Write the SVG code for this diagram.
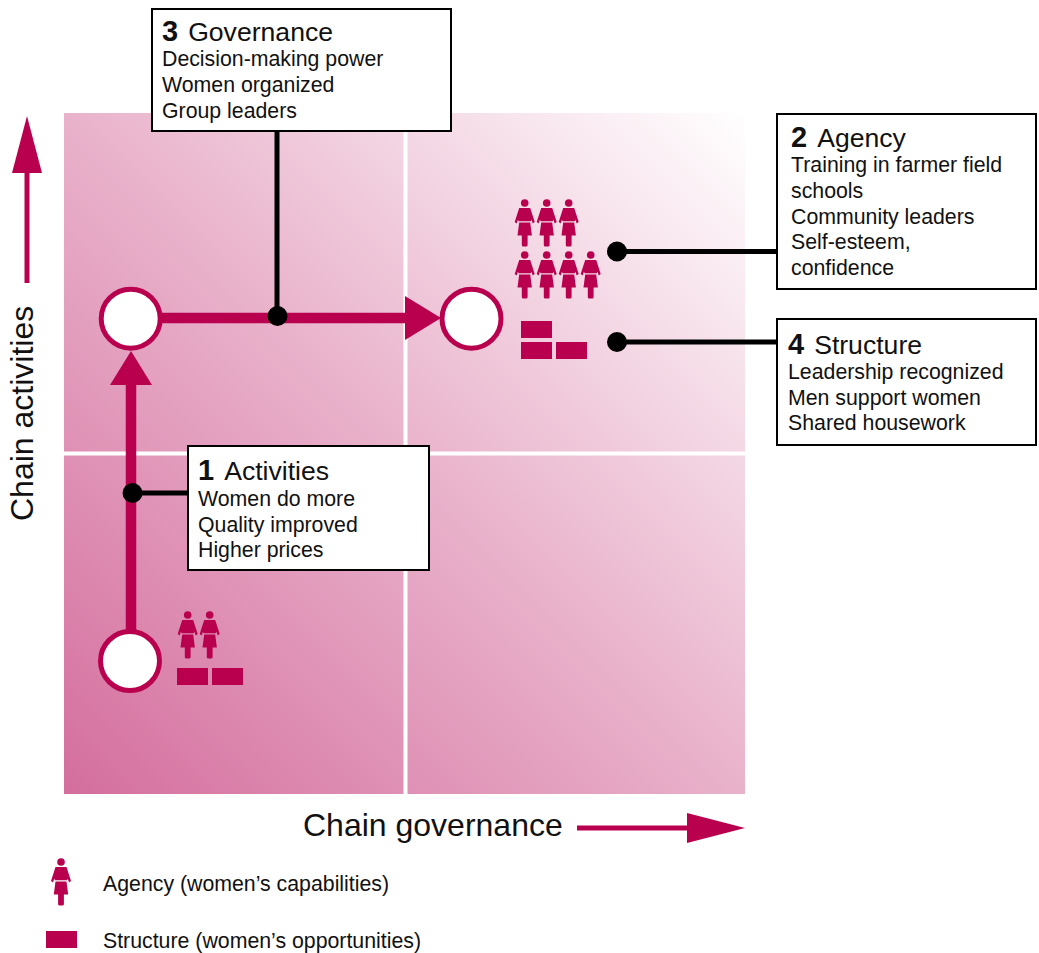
<svg xmlns="http://www.w3.org/2000/svg" width="1039" height="953" viewBox="0 0 1039 953">
<style>
text{font-family:"Liberation Sans",Arial,sans-serif;fill:#111}
.box{fill:#fff;stroke:#000;stroke-width:2}
.t{font-size:21.3px}
.h{font-size:26.600px}
.n{font-size:29px;font-weight:bold}
.ax{font-size:32px}
.lg{font-size:21.300px}
.wire{stroke:#000;stroke-width:5;fill:none}
.mg{fill:#b8004f}
.mgl{stroke:#b8004f;fill:none}
.node{fill:#fff;stroke:#b8004f;stroke-width:5}
</style>
<defs>
<linearGradient id="bg" gradientUnits="userSpaceOnUse" x1="64" y1="794" x2="745" y2="113">
<stop offset="0" stop-color="#d46e9d"/>
<stop offset="0.5" stop-color="#e9b2cb"/>
<stop offset="1" stop-color="#ffffff"/>
</linearGradient>
<g id="w">
<circle cx="0" cy="0" r="3.800"/>
<path d="M-5.500,5 H5.500 L10,19 L8,20.500 L6.800,16.800 L6,18.300 H-6 L-6.800,16.800 L-8,20.500 L-10,19 Z"/>
<path d="M-5.500,19.600 H5.500 L7.200,32.500 H2.900 V42 Q2.900,43.500 1.500,43.500 H-1.500 Q-2.900,43.500 -2.900,42 V32.500 H-7.200 Z"/>
</g>
</defs>
<g id="matrix">
<rect x="64" y="113" width="681" height="681" fill="url(#bg)"/>
<path d="M405.500,113V794M64,453.500H745" stroke="#fff" stroke-width="4" fill="none"/>
</g>
<g id="connectors">
<path class="wire" d="M277,130V316"/>
<path class="wire" d="M132,493H190"/>
<path class="wire" d="M617,251.500H778"/>
<path class="wire" d="M617,342H778"/>
<path class="mgl" stroke-width="10.500" d="M160,318H410"/>
<path class="mg" d="M405,296L441,318L405,340Z"/>
<path class="mgl" stroke-width="10.500" d="M131,635V380"/>
<path class="mg" d="M131,351L152,385H110Z"/>
<circle cx="277.500" cy="316" r="10"/>
<circle cx="132.500" cy="493" r="10"/>
<circle cx="617" cy="251.500" r="10"/>
<circle cx="617" cy="342" r="10"/>
</g>
<g id="axis-y">
<path class="mgl" stroke-width="5" d="M27,283V150"/>
<path class="mg" d="M27,116L42,173H12Z"/>
<text class="ax" transform="translate(33,521) rotate(-90)">Chain activities</text>
</g>
<g id="axis-x">
<text class="ax" x="303" y="836">Chain governance</text>
<path class="mgl" stroke-width="5" d="M577,828H700"/>
<path class="mg" d="M745,828L687,813V843Z"/>
</g>
<g id="node-start">
<circle class="node" cx="130" cy="661" r="29.500"/>
<g class="mg"><use href="#w" x="187.700" y="615"/><use href="#w" x="209.700" y="615"/>
<rect x="177" y="668" width="31" height="17"/><rect x="212" y="668" width="31" height="17"/></g>
</g>
<g id="node-mid"><circle class="node" cx="130.700" cy="318.700" r="29.500"/></g>
<g id="node-end">
<circle class="node" cx="471.500" cy="318.700" r="29.500"/>
<g class="mg">
<use href="#w" x="524.700" y="203"/><use href="#w" x="546.700" y="203"/><use href="#w" x="568.700" y="203"/>
<use href="#w" x="524.700" y="255"/><use href="#w" x="546.700" y="255"/><use href="#w" x="568.700" y="255"/><use href="#w" x="590.700" y="255"/>
<rect x="521" y="321" width="31" height="17"/><rect x="521" y="342" width="31" height="17"/><rect x="556" y="342" width="31" height="17"/>
</g>
</g>
<g id="box-3">
<rect class="box" x="152" y="9" width="299" height="122"/>
<text x="162" y="41"><tspan class="n">3</tspan><tspan class="h" dx="10">Governance</tspan></text>
<text class="t" x="162" y="66">Decision-making power</text>
<text class="t" x="162" y="92">Women organized</text>
<text class="t" x="162" y="118">Group leaders</text>
</g>
<g id="box-2">
<rect class="box" x="777" y="114" width="259" height="175"/>
<text x="791" y="147"><tspan class="n">2</tspan><tspan class="h" dx="10">Agency</tspan></text>
<text class="t" x="791" y="172">Training in farmer field</text>
<text class="t" x="791" y="198">schools</text>
<text class="t" x="791" y="224">Community leaders</text>
<text class="t" x="791" y="249">Self-esteem,</text>
<text class="t" x="791" y="275">confidence</text>
</g>
<g id="box-4">
<rect class="box" x="777" y="319" width="259" height="126"/>
<text x="788" y="354"><tspan class="n">4</tspan><tspan class="h" dx="10">Structure</tspan></text>
<text class="t" x="788" y="379">Leadership recognized</text>
<text class="t" x="788" y="405">Men support women</text>
<text class="t" x="788" y="430">Shared housework</text>
</g>
<g id="box-1">
<rect class="box" x="188" y="446" width="241" height="124"/>
<text x="198" y="480"><tspan class="n">1</tspan><tspan class="h" dx="10">Activities</tspan></text>
<text class="t" x="198" y="506">Women do more</text>
<text class="t" x="198" y="532">Quality improved</text>
<text class="t" x="198" y="557">Higher prices</text>
</g>
<g id="legend">
<use class="mg" href="#w" x="61" y="862"/>
<text class="lg" x="103" y="891">Agency (women’s capabilities)</text>
<rect class="mg" x="46" y="931" width="31" height="17"/>
<text class="lg" x="103" y="948">Structure (women’s opportunities)</text>
</g>
</svg>
